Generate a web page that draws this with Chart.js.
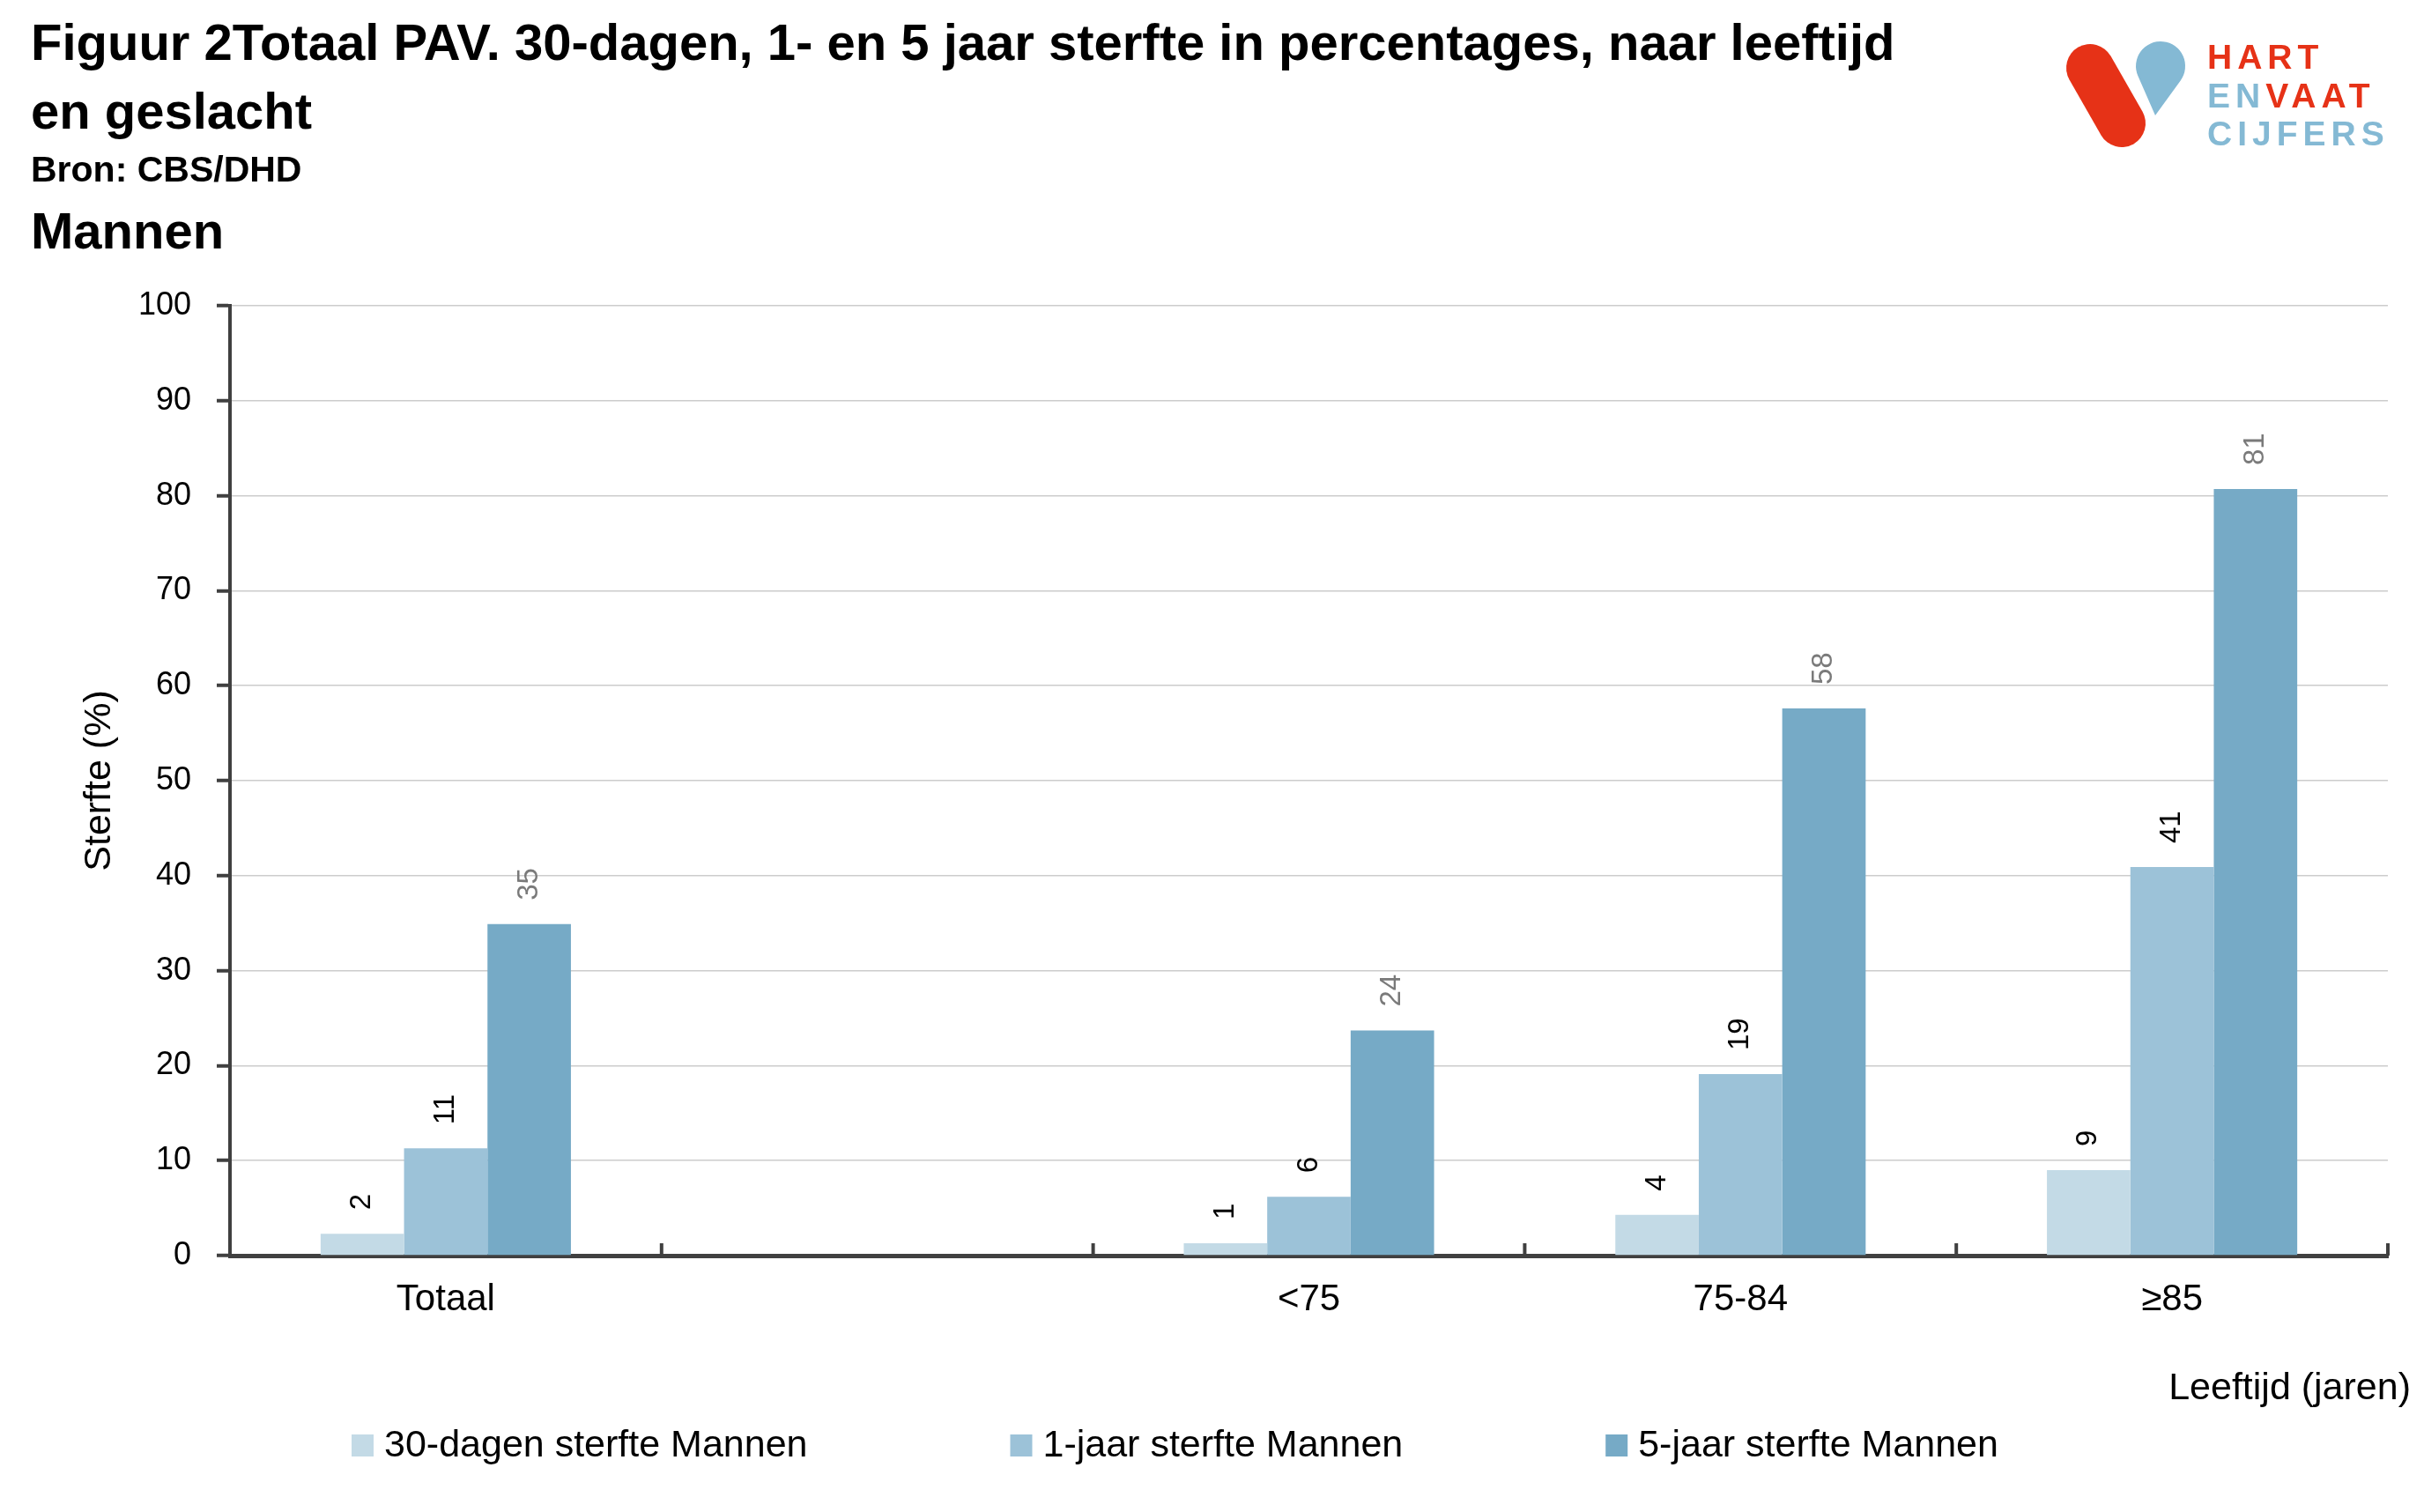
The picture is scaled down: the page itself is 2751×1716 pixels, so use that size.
<!DOCTYPE html>
<html>
<head>
<meta charset="utf-8">
<script src="https://cdn.jsdelivr.net/npm/chart.js@4.4.1/dist/chart.umd.min.js"></script>
<style>
html,body{margin:0;padding:0;background:#fff;}
body{width:2751px;height:1716px;position:relative;overflow:hidden;font-family:"Liberation Sans",Arial,sans-serif;}
#wrap{position:absolute;left:0;top:0;width:2751px;height:1716px;}
.t{position:absolute;left:35px;font-weight:bold;color:#000;white-space:nowrap;}
#title{top:9px;font-size:58px;line-height:78px;}
#bron{top:172px;font-size:41px;line-height:41px;}
#mannen{top:233px;font-size:58px;line-height:58px;}
#logo{position:absolute;left:0;top:0;}
</style>
</head>
<body>
<div id="wrap"><canvas id="chart"></canvas></div>
<div class="t" id="title">Figuur 2Totaal PAV. 30-dagen, 1- en 5 jaar sterfte in percentages, naar leeftijd<br>en geslacht</div>
<div class="t" id="bron">Bron: CBS/DHD</div>
<div class="t" id="mannen">Mannen</div>
<svg id="logo" width="2751" height="200" xmlns="http://www.w3.org/2000/svg">
  <line x1="2372" y1="77" x2="2408" y2="140" stroke="#e63217" stroke-width="54" stroke-linecap="round"/>
  <path d="M2446 131 L2426.4 86.3 A28 28 0 1 1 2474.7 91.4 Z" fill="#84b9d4"/>
  <g font-family="Liberation Sans, Arial, sans-serif" font-weight="bold" font-size="39" letter-spacing="6">
    <text x="2505" y="78" fill="#e63217">HART</text>
    <text x="2505" y="122"><tspan fill="#84b9d4">EN</tspan><tspan fill="#e63217">VAAT</tspan></text>
    <text x="2505" y="165" fill="#84b9d4">CIJFERS</text>
  </g>
</svg>
<script>
// ---- data ----
const categories = ['Totaal', '', '<75', '75-84', '\u226585'];
const seriesNames = ['30-dagen sterfte Mannen', '1-jaar sterfte Mannen', '5-jaar sterfte Mannen'];
const sterfte30dagen = [2.3, null, 1.3, 4.3, 9.0];
const sterfte1jaar = [11.3, null, 6.2, 19.1, 40.9];
const sterfte5jaar = [34.9, null, 23.7, 57.6, 80.7];
const yTickValues = [0, 10, 20, 30, 40, 50, 60, 70, 80, 90, 100];
const yAxisTitle = 'Sterfte (%)';
const xAxisTitle = 'Leeftijd (jaren)';

// ---- styles ----
const barColors = ['#c3dae6', '#9cc2d8', '#76aac6'];
const valueLabelColors = ['#000000', '#000000', '#7a7a7a'];
const axisColor = '#404040';

const valueLabels = {
  id: 'valueLabels',
  afterDatasetsDraw(chart) {
    const ctx = chart.ctx;
    chart.data.datasets.forEach((ds, di) => {
      const meta = chart.getDatasetMeta(di);
      if (meta.hidden) return;
      meta.data.forEach((bar, i) => {
        const v = ds.data[i];
        if (v === null || v === undefined) return;
        ctx.save();
        ctx.translate(bar.x, bar.y - 27);
        ctx.rotate(-Math.PI / 2);
        ctx.font = '33px "Liberation Sans"';
        ctx.fillStyle = valueLabelColors[di];
        ctx.textAlign = 'left';
        ctx.textBaseline = 'middle';
        ctx.fillText(String(Math.round(v)), 0, 0);
        ctx.restore();
      });
    });
  }
};

const xAxisExtras = {
  id: 'xAxisExtras',
  afterDraw(chart) {
    const ctx = chart.ctx;
    const xs = chart.scales.x;
    const n = xs.ticks.length;
    const half = (xs.getPixelForTick(1) - xs.getPixelForTick(0)) / 2;
    const base = chart.chartArea.bottom;
    ctx.save();
    ctx.strokeStyle = axisColor;
    ctx.lineWidth = 4;
    for (let i = 1; i <= n; i++) {
      const px = xs.getPixelForTick(i - 1) + half;
      ctx.beginPath();
      ctx.moveTo(px, base);
      ctx.lineTo(px, base - 14);
      ctx.stroke();
    }
    ctx.font = '43px "Liberation Sans"';
    ctx.fillStyle = '#000';
    ctx.textAlign = 'right';
    ctx.textBaseline = 'alphabetic';
    ctx.fillText(xAxisTitle, chart.width - 15, 1588);
    ctx.restore();
  }
};

// legend drawn on the canvas from the chart's own legend items
const bottomLegend = {
  id: 'bottomLegend',
  afterDraw(chart) {
    const ctx = chart.ctx;
    const items = Chart.defaults.plugins.legend.labels.generateLabels(chart);
    const box = 25, textGap = 12, itemGap = 230, baseline = 1653;
    let x = 399;
    ctx.save();
    ctx.font = '43px "Liberation Sans"';
    ctx.textAlign = 'left';
    ctx.textBaseline = 'alphabetic';
    items.forEach(item => {
      ctx.fillStyle = item.fillStyle;
      ctx.fillRect(x, baseline - box, box, box);
      ctx.fillStyle = '#000';
      ctx.fillText(item.text, x + box + textGap, baseline);
      x += box + textGap + ctx.measureText(item.text).width + itemGap;
    });
    ctx.restore();
  }
};

const chart = new Chart(document.getElementById('chart'), {
  type: 'bar',
  data: {
    labels: categories,
    datasets: [
      { label: seriesNames[0], data: sterfte30dagen, backgroundColor: barColors[0] },
      { label: seriesNames[1], data: sterfte1jaar, backgroundColor: barColors[1] },
      { label: seriesNames[2], data: sterfte5jaar, backgroundColor: barColors[2] }
    ]
  },
  options: {
    responsive: true,
    maintainAspectRatio: false,
    animation: false,
    devicePixelRatio: 1,
    layout: { padding: { top: 347, left: 0, right: 41, bottom: 161 } },
    datasets: { bar: { barPercentage: 1.0, categoryPercentage: 0.58, borderWidth: 0 } },
    plugins: {
      legend: { display: false },
      tooltip: { enabled: false },
      title: { display: false }
    },
    scales: {
      x: {
        grid: { display: false, drawTicks: false },
        border: { display: true, color: axisColor, width: 5 },
        ticks: { padding: 25, color: '#000', font: { family: 'Liberation Sans', size: 42 }, maxRotation: 0, autoSkip: false },
        afterFit(s) { s.height = 130; }
      },
      y: {
        min: 0, max: 100,
        afterBuildTicks(s) { s.ticks = yTickValues.map(v => ({ value: v })); },
        ticks: { padding: 29, color: '#000', font: { family: 'Liberation Sans', size: 36 } },
        grid: { color: '#cccccc', lineWidth: 1.5, tickColor: axisColor, tickWidth: 4, tickLength: 15, drawTicks: true },
        border: { display: true, color: axisColor, width: 4 },
        title: { display: true, text: yAxisTitle, color: '#000', font: { family: 'Liberation Sans', size: 43 }, padding: { top: 87, bottom: 0 } },
        afterFit(s) { s.width = 261; }
      }
    }
  },
  plugins: [valueLabels, xAxisExtras, bottomLegend]
});
</script>
</body>
</html>
